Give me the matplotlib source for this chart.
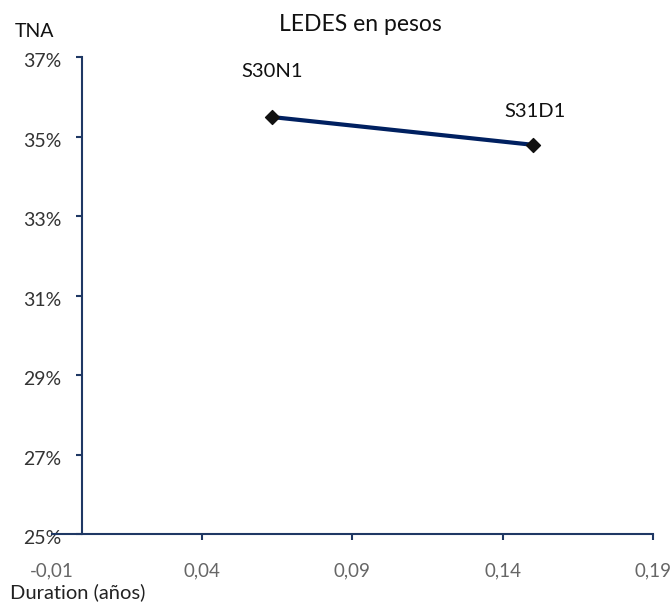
import matplotlib
matplotlib.use("Agg")
import matplotlib.pyplot as plt
from matplotlib.ticker import FuncFormatter
from matplotlib.transforms import ScaledTranslation

names = ["S30N1", "S31D1"]
duration = [0.0633, 0.1501]
tna = [35.50, 34.80]
xticks = [-0.01, 0.04, 0.09, 0.14, 0.19]
yticks = [25, 27, 29, 31, 33, 35, 37]

plt.rcParams['font.family'] = ['Lato', 'DejaVu Sans']
axis_col = '#1F3864'

fig = plt.figure(figsize=(6.72, 6.05), dpi=100)
ax = fig.add_axes([0.0769, 0.1174, 0.8948, 0.7876])
ax.set_xlim(-0.01, 0.19)
ax.set_ylim(25, 37)

ax.plot(duration, tna, color='#002060', lw=3.0, solid_capstyle='butt', zorder=2)
ax.scatter(duration, tna, marker='D', s=50, color='#111111', zorder=3)

ax.annotate(names[0], (duration[0], tna[0]), xytext=(272.5, 605 - 77), textcoords='figure pixels',
            ha='center', va='baseline', fontsize=14.5, color='#111111')
ax.annotate(names[1], (duration[1], tna[1]), xytext=(535, 605 - 117), textcoords='figure pixels',
            ha='center', va='baseline', fontsize=14.5, color='#111111')

for s in ['top', 'right']:
    ax.spines[s].set_visible(False)
ax.spines['left'].set_position(('data', 0))
for s in ['left', 'bottom']:
    ax.spines[s].set_color(axis_col)
    ax.spines[s].set_linewidth(1.5)

ax.set_xticks(xticks)
ax.set_yticks(yticks)
ax.xaxis.set_major_formatter(FuncFormatter(lambda v, p: f"{v:.2f}".replace('.', ',')))
ax.yaxis.set_major_formatter(FuncFormatter(lambda v, p: f"{v:.0f}%"))
ax.tick_params(axis='both', direction='out', color=axis_col, width=1.5, length=4.3)
ax.tick_params(axis='x', pad=16, labelcolor='#666666', labelsize=13.5)
ax.tick_params(axis='y', pad=10.5, labelcolor='#333333', labelsize=14)
ax.xaxis.get_major_ticks()[0].tick1line.set_visible(False)
for lab in ax.get_yticklabels():
    lab.set_transform(lab.get_transform() + ScaledTranslation(0, -3 / 100, fig.dpi_scale_trans))

fig.text(360 / 672, 1 - 31 / 605, "LEDES en pesos", ha='center', va='baseline', fontsize=16.5, color='#111111')
fig.text(15 / 672, 1 - 37 / 605, "TNA", ha='left', va='baseline', fontsize=14, color='#111111')
fig.text(10 / 672, 1 - 598 / 605, "Duration (años)", ha='left', va='baseline', fontsize=14.5, color='#222222')

fig.savefig("out.png", dpi=100)
